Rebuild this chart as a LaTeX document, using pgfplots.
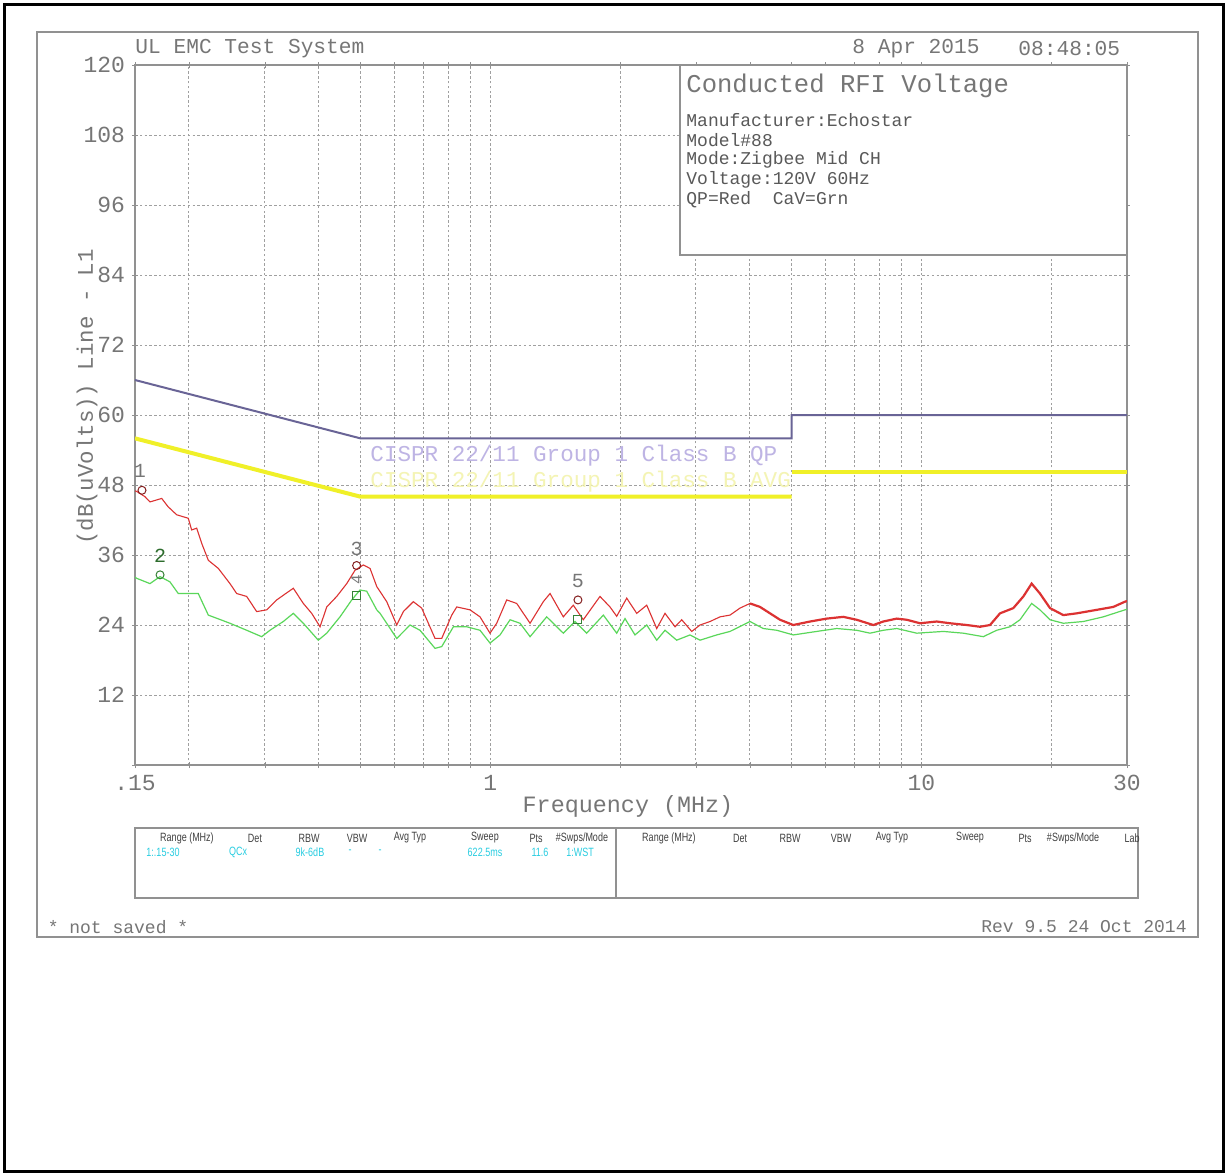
\documentclass[border=0pt]{standalone}
\usepackage{fontspec}
\setmainfont{Liberation Mono}
\newfontfamily\hdrfont{Liberation Sans}
\usepackage{graphicx}
\usepackage{pgfplots}
\pgfplotsset{compat=1.18}
\definecolor{txtgray}{RGB}{118,118,118}
\definecolor{gridgray}{RGB}{160,160,160}
\definecolor{framegray}{RGB}{145,145,145}
\definecolor{qpline}{RGB}{105,100,150}
\definecolor{qptext}{RGB}{190,180,228}
\definecolor{avgline}{RGB}{240,240,40}
\definecolor{avgtext}{RGB}{244,244,180}
\definecolor{qpred}{RGB}{220,50,50}
\definecolor{cavgrn}{RGB}{90,215,90}
\definecolor{cyantxt}{RGB}{40,205,225}
\newcommand{\hd}[2]{\node[font=\hdrfont\fontsize{6}{6}\selectfont, text=black!75, inner sep=0] at (#1,838) {\scalebox{0.75}[1]{#2}};}
\newcommand{\cy}[2]{\node[font=\hdrfont\fontsize{6}{6}\selectfont, text=cyantxt, inner sep=0] at (#1,852) {\scalebox{0.75}[1]{#2}};}
\begin{document}
\begin{tikzpicture}[x=0.5pt,y=-0.5pt]
\path[use as bounding box] (0,0) rectangle (1227,1175);
\fill[white] (0,0) rectangle (1227,1175);
\draw[black, line width=1.5pt] (4,4) rectangle (1223,1171);
\draw[framegray, line width=0.6pt] (37,32) rectangle (1198,937);

\begin{axis}[
  at={(67.5pt,-382.5pt)}, anchor=south west,
  scale only axis, width=496pt, height=350pt,
  xmode=log, xmin=0.15, xmax=30, ymin=0, ymax=120,
  axis line style={framegray, line width=0.7pt},
  xtick={0.15,1,10,30}, xticklabels={.15,1,10,30},
  minor xtick={0.2,0.3,0.4,0.5,0.6,0.7,0.8,0.9,2,3,4,5,6,7,8,9,20},
  ytick={0,12,...,120}, yticklabels={,12,24,36,48,60,72,84,96,108,120},
  grid=both,
  major grid style={gridgray, line width=0.45pt, dash pattern=on 1.2pt off 1.2pt},
  minor grid style={gridgray, line width=0.45pt, dash pattern=on 1.2pt off 1.2pt},
  tick style={framegray}, major tick length=3pt, minor tick length=3pt,
  tick align=center,
  ticklabel style={font=\fontsize{11.5}{12}\selectfont, text=txtgray},
  /pgf/number format/assume math mode=true,
  clip mode=individual,
]
% limit lines
\addplot[qpline, line width=1pt] coordinates {(0.15,66)(0.5,56)(5,56)(5,60)(30,60)};
\addplot[avgline, line width=2pt] coordinates {(0.15,56)(0.5,46)(5,46)};
\addplot[avgline, line width=2pt] coordinates {(5,50.2)(30,50.2)};
\node[anchor=west, inner sep=0, text=qptext, font=\fontsize{11.3}{12}\selectfont] at (axis cs:0.5264,53.1) {CISPR 22/11 Group 1 Class B QP};
\node[anchor=west, inner sep=0, text=avgtext, font=\fontsize{11.3}{12}\selectfont] at (axis cs:0.5264,48.6) {CISPR 22/11 Group 1 Class B AVG};

% CAV (green)
\addplot[cavgrn, line width=0.6pt] coordinates {
(0.1500,32.2)(0.1514,32.0)(0.1625,31.1)(0.1715,32.3)(0.1808,31.4)(0.1890,29.4)
(0.2103,29.4)(0.2219,25.7)(0.2491,24.3)(0.2724,23.1)(0.2951,22.0)(0.3085,23.1)
(0.3312,24.6)(0.3494,26.0)(0.3686,24.3)(0.3993,21.4)(0.4177,22.6)(0.4484,25.4)
(0.4774,28.3)(0.4989,30.0)(0.5171,29.8)(0.5456,26.6)(0.5553,26.0)(0.6071,21.7)
(0.6518,24.0)(0.6874,23.1)(0.7449,20.0)(0.7720,20.3)(0.8216,23.7)(0.8820,23.7)
(0.9471,23.1)(0.9990,20.9)(1.0540,22.3)(1.1120,24.9)(1.1730,24.3)(1.2374,22.0)
(1.3524,25.4)(1.4777,22.6)(1.5729,24.6)(1.6744,22.6)(1.8303,25.7)(1.9656,22.6)
(2.0546,25.1)(2.1669,22.3)(2.3073,24.0)(2.4339,21.4)(2.5440,23.1)(2.7078,21.4)
(2.9076,22.3)(3.0671,21.4)(3.3528,22.3)(3.6000,22.9)(4.0059,24.6)(4.3002,23.4)
(4.6200,23.1)(5.0477,22.3)(5.7207,22.9)(6.3665,23.4)(7.0821,23.1)(7.6049,22.6)
(8.1638,23.1)(8.7722,23.4)(9.7605,22.6)(11.249,22.9)(12.516,22.6)(13.926,22.0)
(14.958,23.1)(16.06,23.7)(16.94,24.9)(18.03,27.7)(18.85,26.6)(19.89,24.9)
(21.35,24.3)(23.76,24.6)(26.43,25.4)(29.68,26.6)(30.0,26.7)
};

% QP (red)
\addplot[qpred, line width=0.55pt] coordinates {
(0.1500,47.0)(0.1514,46.9)(0.1582,46.0)(0.1625,45.1)(0.1730,45.7)(0.1789,44.3)
(0.1874,42.9)(0.1994,42.3)(0.2030,40.3)(0.2085,40.6)(0.2142,38.0)(0.2219,35.1)
(0.2341,33.7)(0.2491,31.1)(0.2582,29.4)(0.2724,28.9)(0.2873,26.3)(0.3031,26.6)
(0.3198,28.3)(0.3312,29.1)(0.3494,30.3)(0.3686,27.7)(0.3855,26.0)(0.4030,23.7)
(0.4177,27.1)(0.4406,28.9)(0.4648,31.1)(0.4859,33.4)(0.5079,34.3)(0.5264,33.7)
(0.5456,30.6)(0.5755,28.0)(0.6071,24.0)(0.6289,26.3)(0.6634,28.0)(0.6936,26.9)
(0.7449,21.7)(0.7720,21.7)(0.8144,25.7)(0.8364,27.1)(0.8978,26.6)(0.9471,25.4)
(0.9990,22.6)(1.0354,24.3)(1.0922,28.3)(1.1521,27.7)(1.2374,24.3)(1.3280,28.0)
(1.3768,29.4)(1.4777,25.4)(1.5588,27.4)(1.6443,24.9)(1.7976,28.9)(1.8963,27.1)
(1.9656,25.5)(2.0735,28.6)(2.1872,26.0)(2.3073,27.4)(2.4339,23.4)(2.5440,26.0)
(2.6835,23.7)(2.7816,24.9)(2.9343,22.9)(3.0671,24.0)(3.2354,24.6)(3.4127,25.4)
(3.6000,25.7)(3.7976,26.9)(4.0059,27.7)
};
\addplot[qpred, line width=1.1pt] coordinates {
(4.0059,27.7)(4.2257,27.1)(4.4576,26.0)(4.7024,24.9)(5.0477,24.0)(5.5205,24.6)
(6.0336,25.1)(6.5931,25.4)(7.0821,24.9)(7.7390,24.0)(8.1638,24.6)(8.7722,25.1)
(9.2531,24.9)(9.933,24.3)(10.858,24.6)(11.658,24.3)(12.750,24.0)(13.684,23.7)
(14.433,24.0)(15.225,26.0)(16.35,26.9)(17.25,28.9)(18.03,31.1)(18.85,29.4)
(19.89,26.9)(21.35,25.7)(22.93,26.0)(25.52,26.6)(27.88,27.1)(29.68,28.0)(30.0,28.1)
};

% markers
\addplot[only marks, mark=o, mark size=2pt, draw=qpred!60!black, mark options={line width=0.5pt}] coordinates {(0.1557,47.1)(0.49,34.2)(1.598,28.3)};
\addplot[only marks, mark=o, mark size=2pt, draw=cavgrn!60!black, mark options={line width=0.5pt}] coordinates {(0.1715,32.6)};
\addplot[only marks, mark=square, mark size=2pt, draw=cavgrn!60!black, mark options={line width=0.5pt}] coordinates {(0.49,29.1)(1.598,25.0)};
\node[text=txtgray, font=\fontsize{10}{10}\selectfont, inner sep=0] at (axis cs:0.154,50.4) {1};
\node[text=cavgrn!50!black, font=\fontsize{10}{10}\selectfont, inner sep=0] at (axis cs:0.1715,35.9) {2};
\node[text=txtgray, font=\fontsize{10}{10}\selectfont, inner sep=0] at (axis cs:0.49,37.0) {3};
\node[text=txtgray, font=\fontsize{8}{8}\selectfont, inner sep=0, rotate=90] at (axis cs:0.49,31.7) {4};
\node[text=txtgray, font=\fontsize{10}{10}\selectfont, inner sep=0] at (axis cs:1.598,31.6) {5};
\end{axis}

% axis labels
\node[rotate=90, text=txtgray, font=\fontsize{11.2}{12}\selectfont, inner sep=0] at (87,397) {(dB(uVolts)) Line - L1};
\node[text=txtgray, font=\fontsize{11.7}{12}\selectfont, inner sep=0] at (628,806) {Frequency (MHz)};

% header
\node[anchor=west, inner sep=0, text=txtgray, font=\fontsize{10.6}{11}\selectfont] at (135,49) {UL EMC Test System};
\node[anchor=west, inner sep=0, text=txtgray, font=\fontsize{10.6}{11}\selectfont] at (852,49) {8 Apr 2015};
\node[anchor=west, inner sep=0, text=txtgray, font=\fontsize{10.6}{11}\selectfont] at (1018,49) {08:48:05};

% info box
\filldraw[fill=white, draw=framegray, line width=0.6pt] (680,65) rectangle (1127,255);
\node[anchor=west, inner sep=0, text=txtgray, font=\fontsize{12.8}{13}\selectfont] at (686,86) {Conducted RFI Voltage};
\node[anchor=west, inner sep=0, text=black!65, font=\fontsize{9}{10}\selectfont] at (686,120) {Manufacturer:Echostar};
\node[anchor=west, inner sep=0, text=black!65, font=\fontsize{9}{10}\selectfont] at (686,140) {Model\#88};
\node[anchor=west, inner sep=0, text=black!65, font=\fontsize{9}{10}\selectfont] at (686,160) {Mode:Zigbee Mid CH};
\node[anchor=west, inner sep=0, text=black!65, font=\fontsize{9}{10}\selectfont] at (686,180) {Voltage:120V 60Hz};
\node[anchor=west, inner sep=0, text=black!65, font=\fontsize{9}{10}\selectfont] at (686,200) {QP=Red~~CaV=Grn};

% settings table
\draw[framegray, line width=0.6pt] (135,828) rectangle (1138,898);
\draw[framegray, line width=0.6pt] (616,828) -- (616,898);
\hd{187}{Range (MHz)}\hd{255}{Det}\hd{309}{RBW}\hd{357}{VBW}\hd{410}{Avg Typ}
\hd{485}{Sweep}\hd{536}{Pts}\hd{582}{\#Swps/Mode}
\hd{669}{Range (MHz)}\hd{740}{Det}\hd{790}{RBW}\hd{841}{VBW}\hd{892}{Avg Typ}
\hd{970}{Sweep}\hd{1025}{Pts}\hd{1073}{\#Swps/Mode}\hd{1132}{Lab}
\cy{163}{1:.15-30}\cy{238}{QCx}\cy{310}{9k-6dB}\cy{350}{-}\cy{380}{-}
\cy{485}{622.5ms}\cy{540}{11.6}\cy{580}{1:WST}

% footer
\node[text=txtgray, font=\fontsize{9}{10}\selectfont, inner sep=0] at (118,927) {* not saved *};
\node[text=txtgray, font=\fontsize{9}{10}\selectfont, inner sep=0] at (1084,927) {Rev 9.5 24 Oct 2014};
\end{tikzpicture}
\end{document}
